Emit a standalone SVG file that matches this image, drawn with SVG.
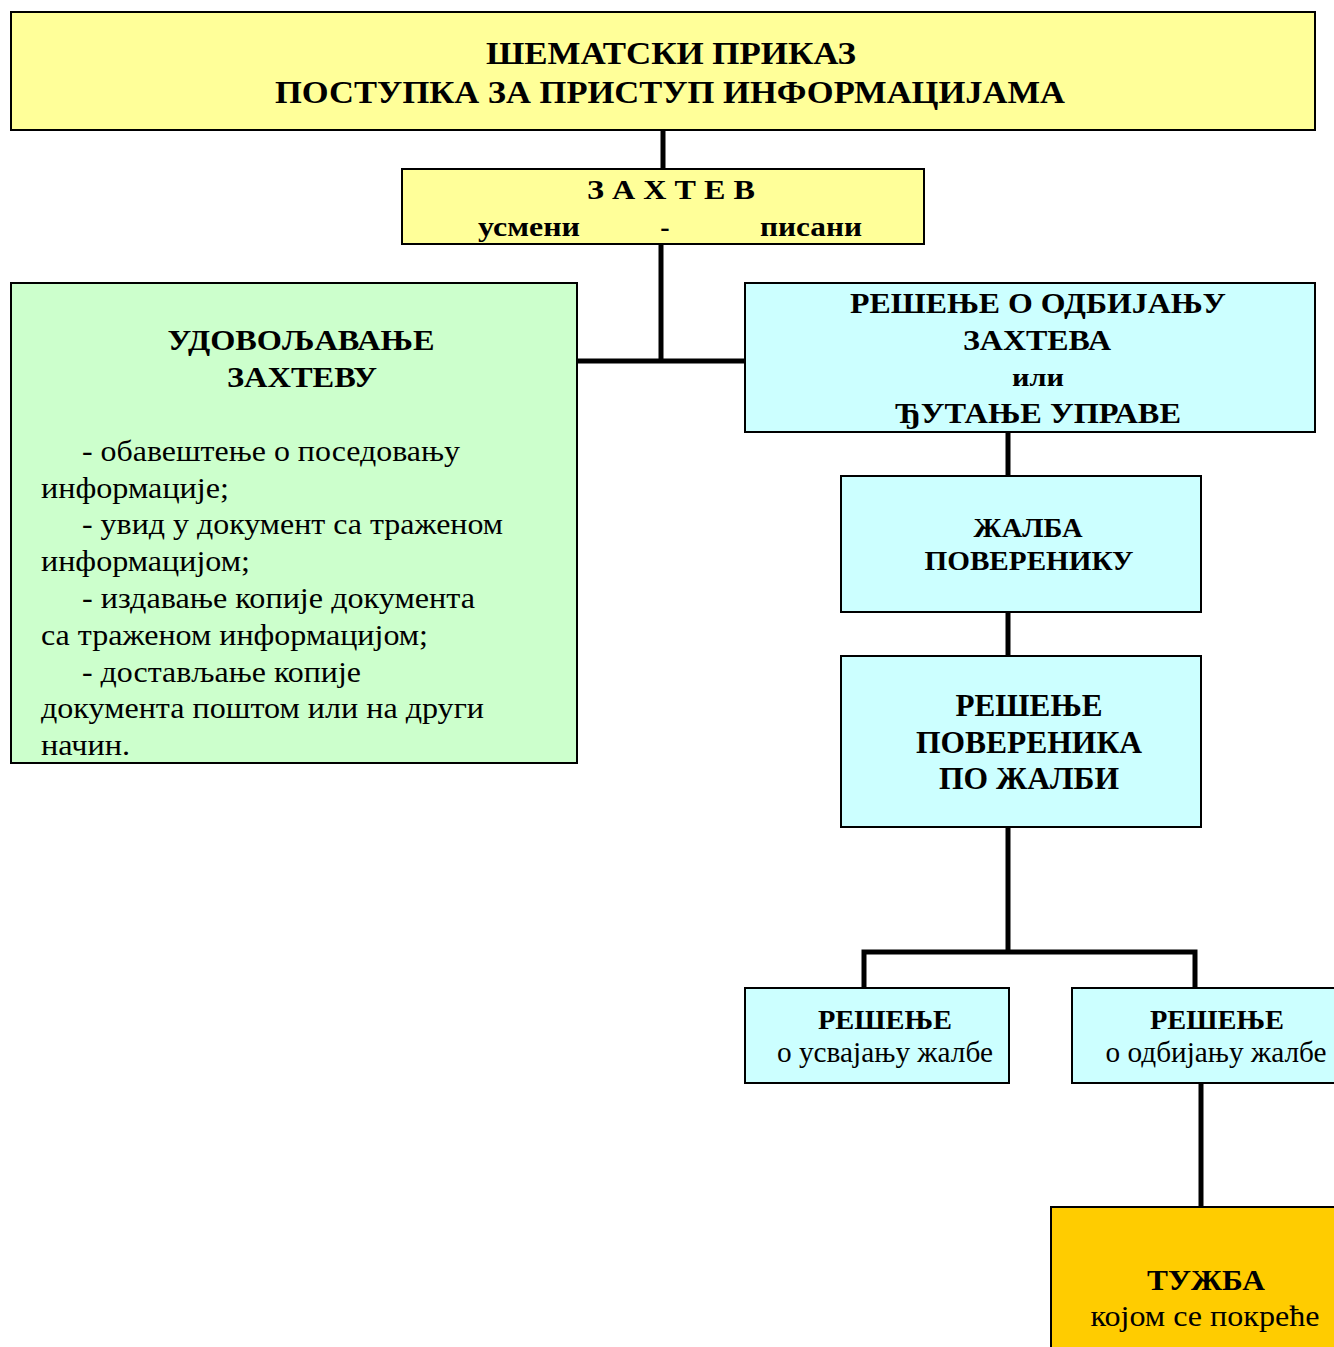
<svg xmlns="http://www.w3.org/2000/svg" width="1334" height="1347" viewBox="0 0 1334 1347">
<style>
.box{stroke:#000;stroke-width:2}
.y{fill:#FFFF99}.g{fill:#CCFFCC}.c{fill:#CCFFFF}.o{fill:#FFCC00}
text{font-family:"Liberation Serif","Times New Roman",serif;fill:#000}
.b{font-weight:bold;text-anchor:middle}
.r{font-size:30px}
.rc{font-size:29px;text-anchor:middle}
.conn{stroke:#000;stroke-width:5;fill:none}
</style>
<g id="connectors">
<line class="conn" x1="663" y1="130" x2="663" y2="169"/>
<line class="conn" x1="661" y1="244" x2="661" y2="363"/>
<line class="conn" x1="578" y1="361" x2="745" y2="361"/>
<line class="conn" x1="1008" y1="432" x2="1008" y2="476"/>
<line class="conn" x1="1008" y1="612" x2="1008" y2="656"/>
<polyline class="conn" points="1008,827 1008,952"/>
<polyline class="conn" points="864,988 864,952 1195,952 1195,988"/>
<line class="conn" x1="1201" y1="1083" x2="1201" y2="1207"/>
</g>
<g id="title">
<rect class="box y" x="11" y="12" width="1304" height="118"/>
<text class="b" x="671" y="64" font-size="31" textLength="370" lengthAdjust="spacingAndGlyphs">ШЕМАТСКИ ПРИКАЗ</text>
<text class="b" x="670" y="103" font-size="31" textLength="790" lengthAdjust="spacingAndGlyphs">ПОСТУПКА ЗА ПРИСТУП ИНФОРМАЦИЈАМА</text>
</g>
<g id="zahtev">
<rect class="box y" x="402" y="169" width="522" height="75"/>
<text class="b" x="671" y="199" font-size="28" textLength="168" lengthAdjust="spacingAndGlyphs">З А Х Т Е В</text>
<text class="b" x="529" y="236" font-size="28" textLength="102" lengthAdjust="spacingAndGlyphs">усмени</text>
<text class="b" x="665" y="236" font-size="28">-</text>
<text class="b" x="811" y="236" font-size="28" textLength="102" lengthAdjust="spacingAndGlyphs">писани</text>
</g>
<g id="udovoljavanje">
<rect class="box g" x="11" y="283" width="566" height="480"/>
<text class="b" x="301" y="350" font-size="30" textLength="267" lengthAdjust="spacingAndGlyphs">УДОВОЉАВАЊЕ</text>
<text class="b" x="302" y="387" font-size="30" textLength="150" lengthAdjust="spacingAndGlyphs">ЗАХТЕВУ</text>
<text class="r" x="82" y="461" textLength="378" lengthAdjust="spacingAndGlyphs">- обавештење о поседовању</text>
<text class="r" x="41" y="498" textLength="188" lengthAdjust="spacingAndGlyphs">информације;</text>
<text class="r" x="82" y="534" textLength="421" lengthAdjust="spacingAndGlyphs">- увид у документ са траженом</text>
<text class="r" x="41" y="571" textLength="209" lengthAdjust="spacingAndGlyphs">информацијом;</text>
<text class="r" x="82" y="608" textLength="393" lengthAdjust="spacingAndGlyphs">- издавање копије документа</text>
<text class="r" x="41" y="645" textLength="387" lengthAdjust="spacingAndGlyphs">са траженом информацијом;</text>
<text class="r" x="82" y="682" textLength="279" lengthAdjust="spacingAndGlyphs">- достављање копије</text>
<text class="r" x="41" y="718" textLength="443" lengthAdjust="spacingAndGlyphs">документа поштом или на други</text>
<text class="r" x="41" y="755" textLength="89" lengthAdjust="spacingAndGlyphs">начин.</text>
</g>
<g id="odbijanje">
<rect class="box c" x="745" y="283" width="570" height="149"/>
<text class="b" x="1038" y="313" font-size="30" textLength="376" lengthAdjust="spacingAndGlyphs">РЕШЕЊЕ О ОДБИЈАЊУ</text>
<text class="b" x="1037" y="350" font-size="30" textLength="148" lengthAdjust="spacingAndGlyphs">ЗАХТЕВА</text>
<text class="b" x="1038" y="386" font-size="26" textLength="52" lengthAdjust="spacingAndGlyphs">или</text>
<text class="b" x="1038" y="423" font-size="30" textLength="286" lengthAdjust="spacingAndGlyphs">ЂУТАЊЕ УПРАВЕ</text>
</g>
<g id="zalba">
<rect class="box c" x="841" y="476" width="360" height="136"/>
<text class="b" x="1028" y="537" font-size="28" textLength="109" lengthAdjust="spacingAndGlyphs">ЖАЛБА</text>
<text class="b" x="1029" y="570" font-size="28" textLength="209" lengthAdjust="spacingAndGlyphs">ПОВЕРЕНИКУ</text>
</g>
<g id="resenje-poverenika">
<rect class="box c" x="841" y="656" width="360" height="171"/>
<text class="b" x="1029" y="716" font-size="32" textLength="147" lengthAdjust="spacingAndGlyphs">РЕШЕЊЕ</text>
<text class="b" x="1029" y="753" font-size="32" textLength="226" lengthAdjust="spacingAndGlyphs">ПОВЕРЕНИКА</text>
<text class="b" x="1029" y="789" font-size="32" textLength="180" lengthAdjust="spacingAndGlyphs">ПО ЖАЛБИ</text>
</g>
<g id="usvajanje">
<rect class="box c" x="745" y="988" width="264" height="95"/>
<text class="b" x="885" y="1029" font-size="28" textLength="134" lengthAdjust="spacingAndGlyphs">РЕШЕЊЕ</text>
<text class="rc" x="885" y="1062" textLength="216" lengthAdjust="spacingAndGlyphs">о усвајању жалбе</text>
</g>
<g id="odbijanje-zalbe">
<rect class="box c" x="1072" y="988" width="275" height="95"/>
<text class="b" x="1217" y="1029" font-size="28" textLength="134" lengthAdjust="spacingAndGlyphs">РЕШЕЊЕ</text>
<text class="rc" x="1216" y="1062" textLength="221" lengthAdjust="spacingAndGlyphs">о одбијању жалбе</text>
</g>
<g id="tuzba">
<rect class="box o" x="1051" y="1207" width="300" height="160"/>
<text class="b" x="1206" y="1290" font-size="30" textLength="118" lengthAdjust="spacingAndGlyphs">ТУЖБА</text>
<text class="rc" x="1205" y="1326" textLength="229" lengthAdjust="spacingAndGlyphs">којом се покреће</text>
</g>
</svg>
